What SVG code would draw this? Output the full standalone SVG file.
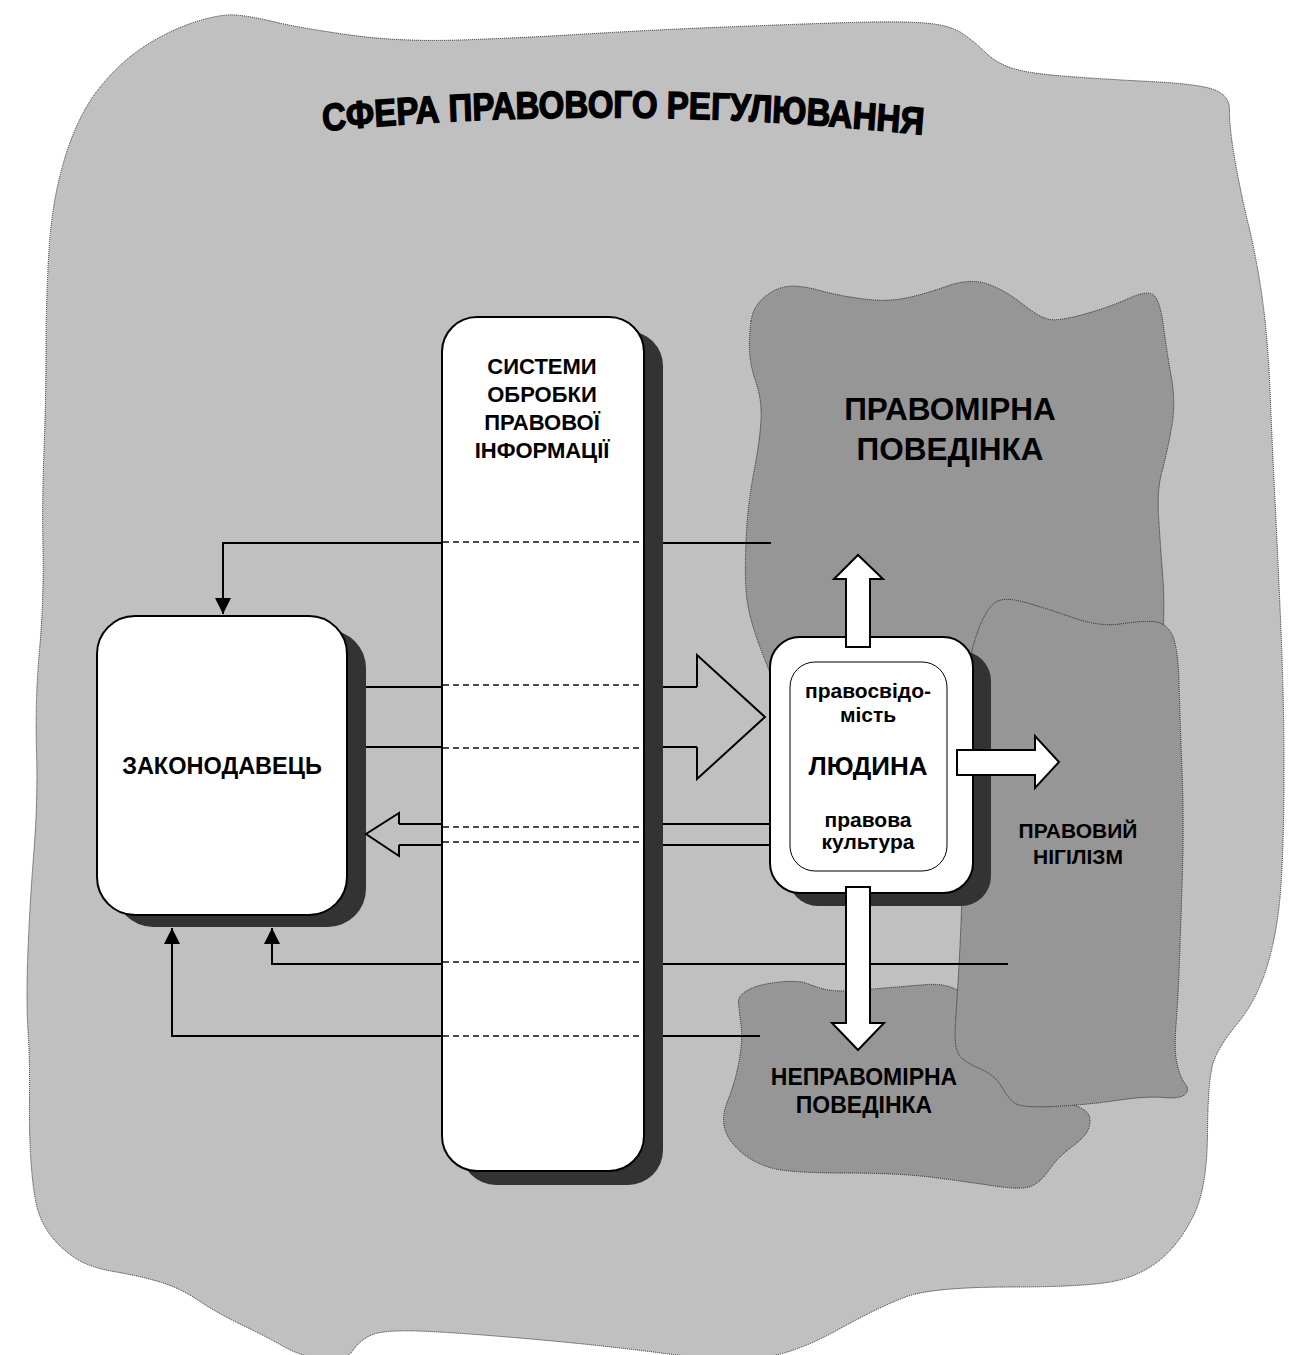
<svg xmlns="http://www.w3.org/2000/svg" width="1289" height="1355" viewBox="0 0 1289 1355">
<defs>
<style>
.zone{stroke:#222;stroke-width:1;stroke-dasharray:1 1}
.bg{fill:#c0c0c0}
.dark{fill:#969696}
.shadow{fill:#333333}
.box{fill:#ffffff;stroke:#000;stroke-width:2}
.t{font-family:"Liberation Sans",Arial,sans-serif;font-weight:bold;fill:#000;text-anchor:middle}
.ln{fill:none;stroke:#000;stroke-width:2}
.dash{fill:none;stroke:#111;stroke-width:1.3;stroke-dasharray:6 4}
.hollow{fill:#c0c0c0;stroke:#000;stroke-width:2;stroke-linejoin:miter}
.block{fill:#fff;stroke:#000;stroke-width:2;stroke-linejoin:miter}
</style>
<marker id="ah" viewBox="0 0 16 16" refX="16" refY="8" markerWidth="16" markerHeight="16" markerUnits="userSpaceOnUse" orient="auto">
<path d="M0,0 L16,8 L0,16 Z" fill="#000"/>
</marker>
<path id="titleArc" d="M 278,131 Q 622,102 970,135"/>
</defs>

<g id="zone-sfera">
<path class="zone bg" d="M46,350 Q46,300 49,250 Q52,200 65,157.5 Q78,115 99,88.5 Q120,62 145,46 Q170,30 195,22 Q220,14 235,15 Q250,16 275,22 Q300,28 350,35 Q400,42 460,40 Q520,38 585,34 Q650,30 725,27 Q800,24 850,22.5 Q900,21 925,23 Q950,25 962.5,33.5 Q975,42 985,52 Q995,62 1010,67.5 Q1025,73 1062.5,76 Q1100,79 1150,81.5 Q1200,84 1215,90 Q1230,96 1229.5,110.5 Q1229,125 1234.5,157.5 Q1240,190 1248.5,225 Q1257,260 1262.5,300 Q1268,340 1270,390 Q1272,440 1275,500 Q1278,560 1281,630 Q1284,700 1284,770 Q1284,840 1281,885 Q1278,930 1267.5,965 Q1257,1000 1237.5,1023.5 Q1218,1047 1213,1063.5 Q1208,1080 1207.5,1133.5 Q1207,1187 1194.5,1213.5 Q1182,1240 1164,1256.5 Q1146,1273 1119.5,1280 Q1093,1287 1012.5,1287 Q932,1287 905.5,1297 Q879,1307 837.5,1330 Q796,1353 763,1357.5 Q730,1362 665,1353.5 Q600,1345 525,1338.5 Q450,1332 416.5,1331 Q383,1330 371.5,1335 Q360,1340 352.5,1351 Q345,1362 322.5,1359 Q300,1356 283.5,1346.5 Q267,1337 242,1325 Q217,1313 198.5,1300.5 Q180,1288 160,1282 Q140,1276 113.5,1271.5 Q87,1267 72,1256 Q57,1245 48.5,1232.5 Q40,1220 36.5,1205 Q33,1190 31,1161.5 Q29,1133 29.5,1096.5 Q30,1060 28,1030 Q26,1000 28,950 Q30,900 34,850 Q38,800 36.5,750 Q35,700 39.5,650 Q44,600 43,550 Q42,500 44,450 Q46,400 46,350 Z"/>
<g transform="translate(624,0) scale(0.87,1) translate(-624,0)">
<text class="t" style="text-anchor:start;font-size:38px;stroke:#000;stroke-width:1.5"><textPath href="#titleArc">СФЕРА ПРАВОВОГО РЕГУЛЮВАННЯ</textPath></text>
</g>
</g>

<g id="zone-pravomirna">
<path class="zone dark" d="M751,321 Q753,307 764,297.5 Q775,288 787.5,286.5 Q800,285 820,290.5 Q840,296 863.5,299 Q887,302 906,298 Q925,294 947.5,286 Q970,278 987.5,284 Q1005,290 1022.5,304 Q1040,318 1050,319.5 Q1060,321 1085,314 Q1110,307 1128.5,298.5 Q1147,290 1153.5,295 Q1160,300 1163.5,326.5 Q1167,353 1171.5,378 Q1176,403 1171.5,428 Q1167,453 1162,471.5 Q1157,490 1158.5,515 Q1160,540 1163,580 Q1166,620 1158,710 Q1150,800 1025,810 Q900,820 850,800 Q800,780 787.5,732.5 Q775,685 765,660 Q755,635 750.5,617.5 Q746,600 745.5,580 Q745,560 746.5,531.5 Q748,503 754,471.5 Q760,440 761,420 Q762,400 756,382.5 Q750,365 749.5,350 Q749,335 751,321 Z"/>
<text class="t" style="font-size:31.5px" x="950" y="420">ПРАВОМІРНА</text>
<text class="t" style="font-size:31.5px" x="950" y="460">ПОВЕДІНКА</text>
</g>

<g id="zone-nepravomirna">
<path class="zone dark" d="M738.5,1002.5 Q738,995 749,989.5 Q760,984 779.5,982 Q799,980 808.5,984 Q818,988 829,990 Q840,992 868,989.5 Q896,987 928,984.5 Q960,982 980,1011 Q1000,1040 1030,1070 Q1060,1100 1074,1105 Q1088,1110 1089.5,1117 Q1091,1124 1087.5,1131 Q1084,1138 1071,1147.5 Q1058,1157 1049,1170 Q1040,1183 1030.5,1186.5 Q1021,1190 994.5,1186 Q968,1182 934,1177.5 Q900,1173 844.5,1173 Q789,1173 771.5,1168 Q754,1163 741.5,1152.5 Q729,1142 725,1129.5 Q721,1117 728,1100 Q735,1083 739,1061.5 Q743,1040 741,1025 Q739,1010 738.5,1002.5 Z"/>
<text class="t" style="font-size:23px" x="864" y="1085">НЕПРАВОМІРНА</text>
<text class="t" style="font-size:23px" x="864" y="1113">ПОВЕДІНКА</text>
</g>

<g id="zone-nigilizm">
<path class="zone dark" d="M966.5,712.5 Q968,665 973,646.5 Q978,628 985,615 Q992,602 1001,600 Q1010,598 1027.5,603 Q1045,608 1072.5,617.5 Q1100,627 1120,624 Q1140,621 1152.5,621.5 Q1165,622 1171.5,633.5 Q1178,645 1179,682.5 Q1180,720 1182,770 Q1184,820 1182.5,870 Q1181,920 1179.5,960 Q1178,1000 1176,1025 Q1174,1050 1177,1063.5 Q1180,1077 1185,1083.5 Q1190,1090 1185,1094.5 Q1180,1099 1163,1097.5 Q1146,1096 1116,1100.5 Q1086,1105 1053.5,1106.5 Q1021,1108 1014.5,1103 Q1008,1098 1001.5,1086.5 Q995,1075 978.5,1068 Q962,1061 958,1053 Q954,1045 955.5,1022.5 Q957,1000 959,965 Q961,930 962,890 Q963,850 964,805 Q965,760 966.5,712.5 Z"/>
<text class="t" style="font-size:21px" x="1078" y="838">ПРАВОВИЙ</text>
<text class="t" style="font-size:21px" x="1078" y="864">НІГІЛІЗМ</text>
</g>

<g id="node-zakonodavets">
<rect class="shadow" x="115" y="630" width="251" height="297" rx="38"/>
<rect class="box" x="97" y="616" width="250" height="299" rx="38"/>
<text class="t" style="font-size:23.5px" x="222" y="774">ЗАКОНОДАВЕЦЬ</text>
</g>

<g id="node-systemy">
<rect class="shadow" x="461" y="331" width="202" height="854" rx="35"/>
<rect class="box" x="442" y="317" width="202" height="854" rx="35"/>
<text class="t" style="font-size:22px" x="542" y="374">СИСТЕМИ</text>
<text class="t" style="font-size:22px" x="542" y="402">ОБРОБКИ</text>
<text class="t" style="font-size:22px" x="542" y="430">ПРАВОВОЇ</text>
<text class="t" style="font-size:22px" x="542" y="458">ІНФОРМАЦІЇ</text>
</g>

<g id="node-lyudyna">
<rect class="shadow" x="788" y="651" width="203" height="255" rx="30"/>
<rect class="box" x="770" y="637" width="203" height="256" rx="30"/>
<rect x="790" y="662" width="157" height="209" rx="25" fill="#fff" stroke="#000" stroke-width="1"/>
<text class="t" style="font-size:21px" x="868" y="698">правосвідо-</text>
<text class="t" style="font-size:21px" x="868" y="722">мість</text>
<text class="t" style="font-size:26px" x="868" y="775">ЛЮДИНА</text>
<text class="t" style="font-size:21px" x="868" y="827">правова</text>
<text class="t" style="font-size:21px" x="868" y="849">культура</text>
</g>

<g id="connectors">
<polyline class="ln" points="441,543 223,543 223,614" marker-end="url(#ah)"/>
<line class="ln" x1="663" y1="543" x2="771" y2="543"/>
<line class="dash" x1="443" y1="542" x2="644" y2="542"/>
<line class="ln" x1="366" y1="687" x2="441" y2="687"/>
<line class="ln" x1="366" y1="747" x2="441" y2="747"/>
<line class="ln" x1="663" y1="687" x2="698" y2="687"/>
<line class="ln" x1="663" y1="747" x2="698" y2="747"/>
<path class="hollow" d="M697,687 L697,655 L765,717 L697,779 L697,747"/>
<line class="dash" x1="443" y1="685" x2="644" y2="685"/>
<line class="dash" x1="443" y1="748" x2="644" y2="748"/>
<line class="ln" x1="398" y1="824" x2="441" y2="824"/>
<line class="ln" x1="398" y1="845" x2="441" y2="845"/>
<line class="ln" x1="663" y1="824" x2="770" y2="824"/>
<line class="ln" x1="663" y1="845" x2="770" y2="845"/>
<path class="hollow" d="M399,824 L399,813 L366,834 L399,856 L399,845"/>
<line class="dash" x1="443" y1="827" x2="644" y2="827"/>
<line class="dash" x1="443" y1="842" x2="644" y2="842"/>
<polyline class="ln" points="441,964 272,964 272,928" marker-end="url(#ah)"/>
<line class="ln" x1="663" y1="964" x2="1008" y2="964"/>
<line class="dash" x1="443" y1="962" x2="644" y2="962"/>
<polyline class="ln" points="441,1036 172,1036 172,928" marker-end="url(#ah)"/>
<line class="ln" x1="663" y1="1036" x2="760" y2="1036"/>
<line class="dash" x1="443" y1="1036" x2="644" y2="1036"/>
<path class="block" d="M846,647 L846,579 L834,579 L858,555 L883,579 L870,579 L870,647 Z"/>
<path class="block" d="M846,887 L870,887 L870,1023 L884,1023 L858,1050 L832,1023 L846,1023 Z"/>
<path class="block" d="M957,750 L1035,750 L1035,736 L1059,762 L1035,788 L1035,775 L957,775 Z"/>
</g>
</svg>
